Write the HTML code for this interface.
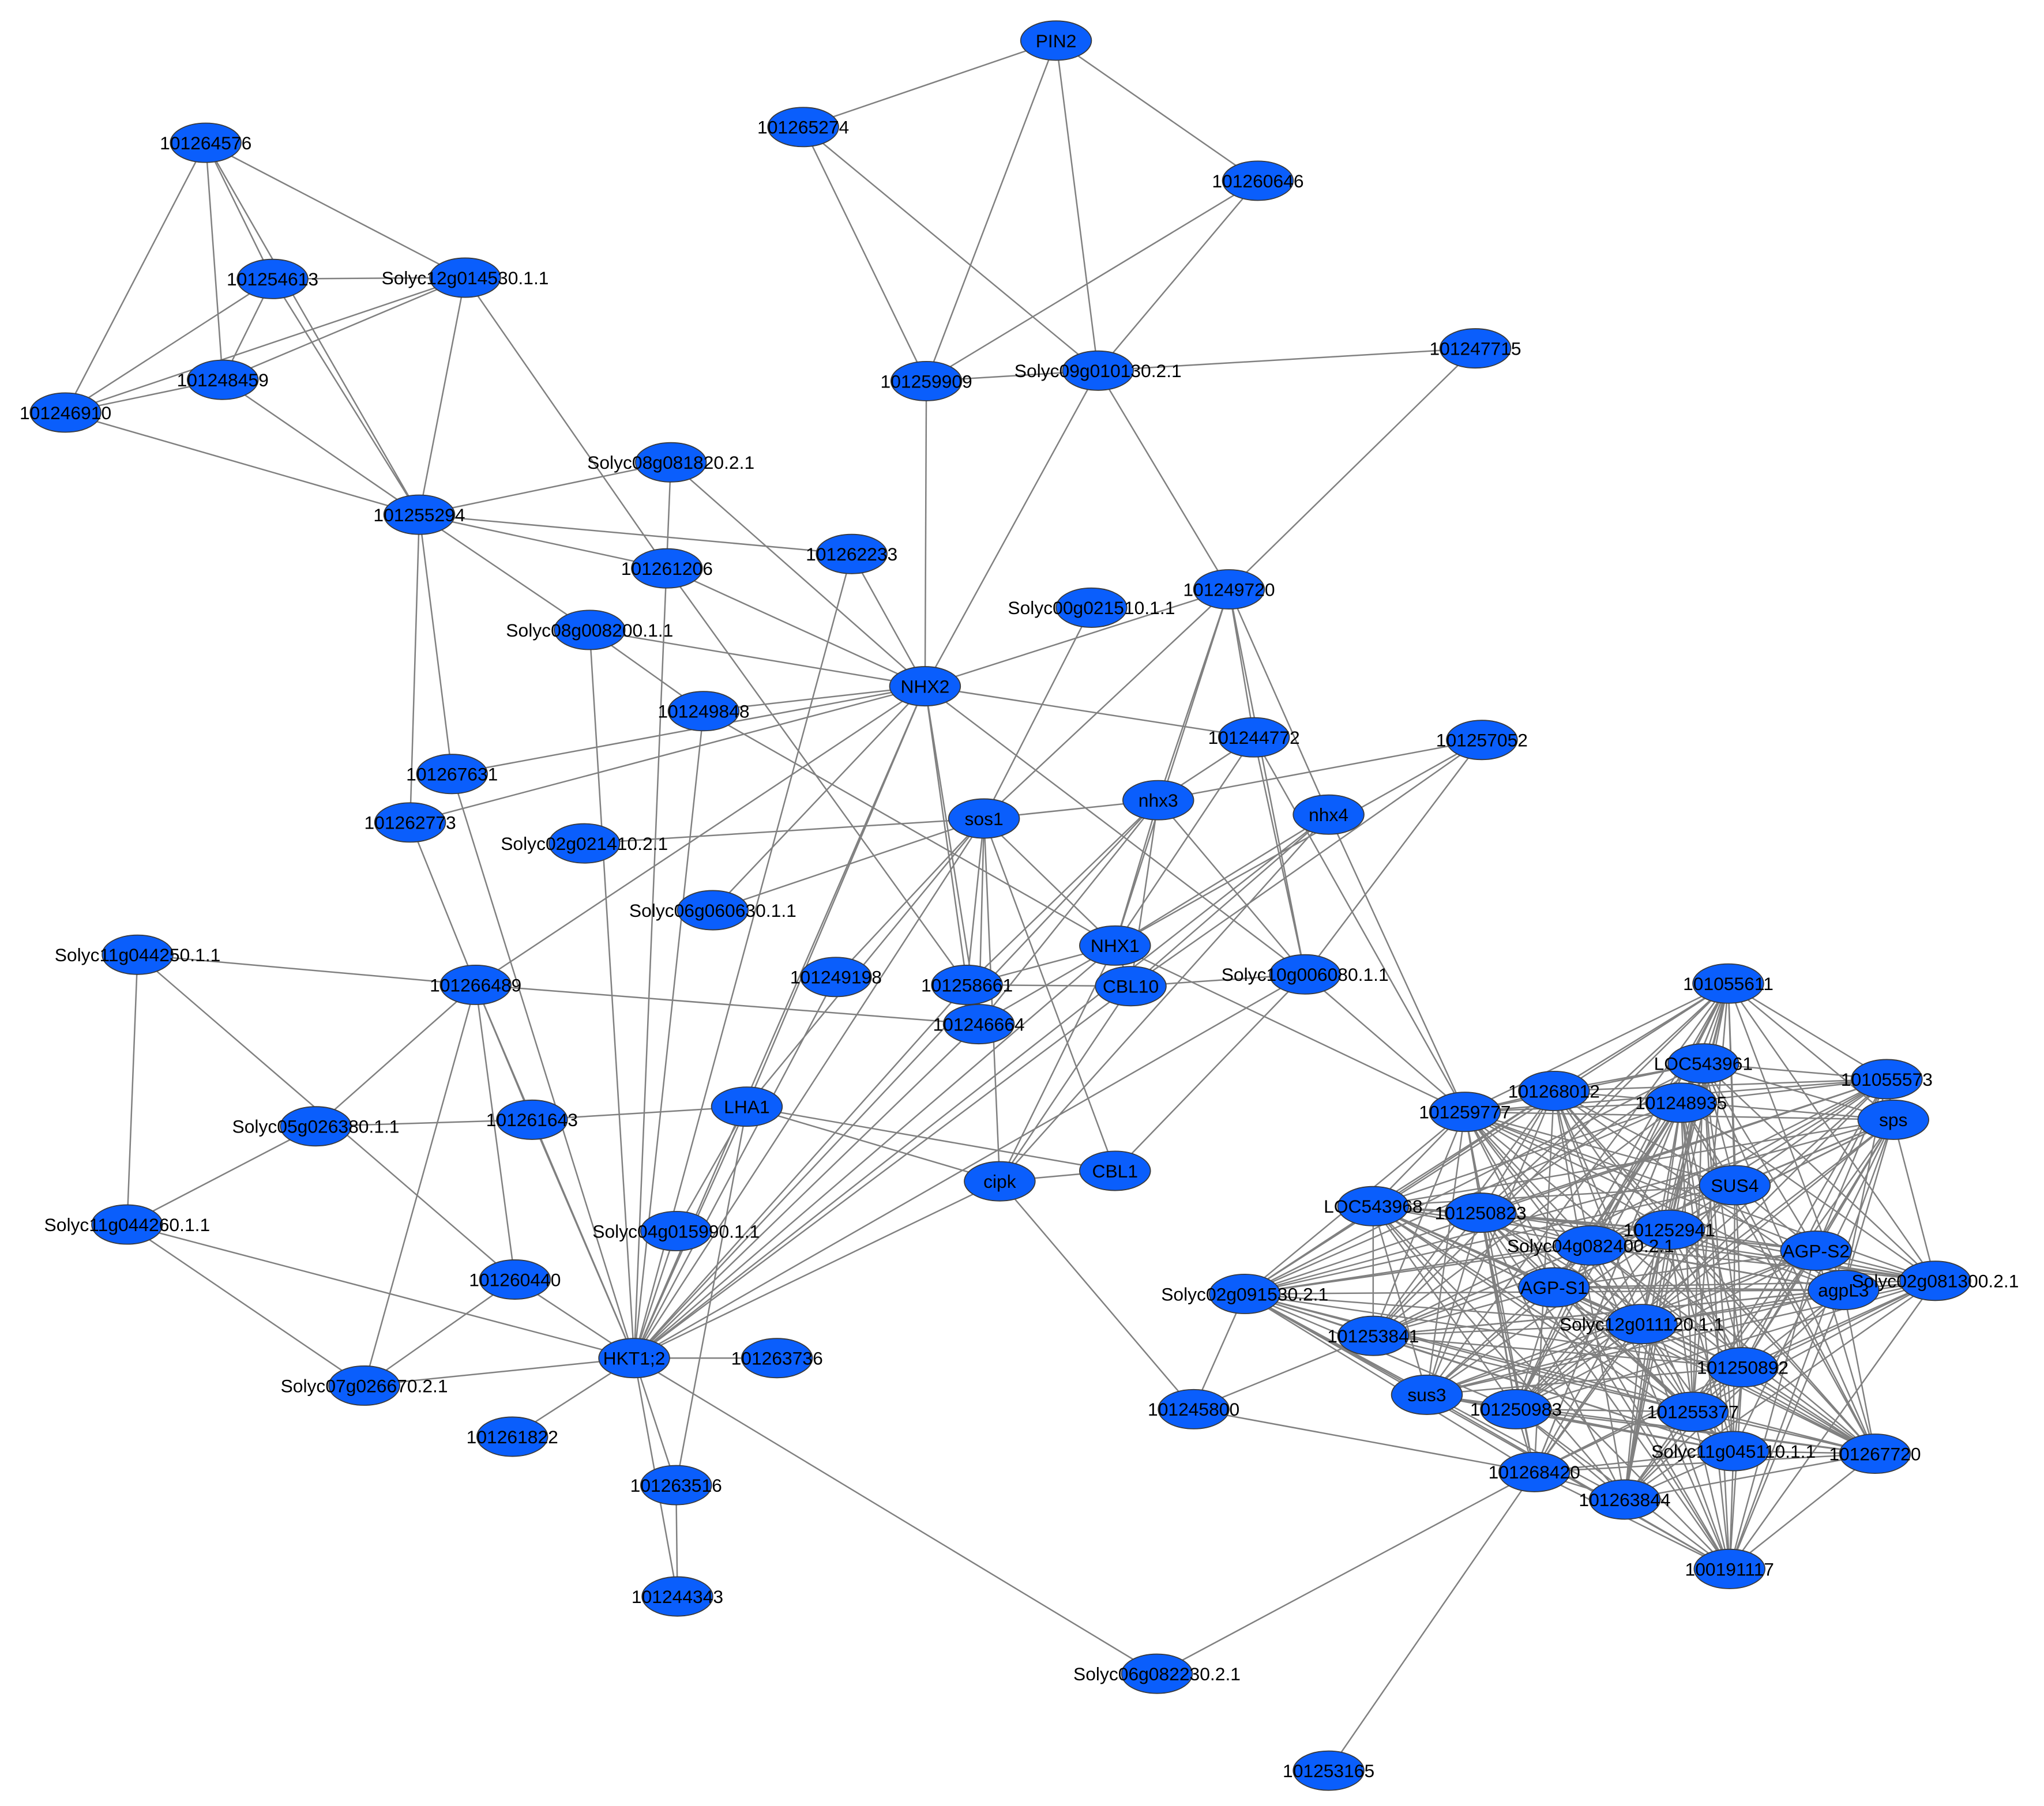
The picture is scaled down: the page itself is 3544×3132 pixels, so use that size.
<!DOCTYPE html>
<html><head><meta charset="utf-8"><style>
html,body{margin:0;padding:0;background:#fff;}
svg{display:block;}
text{font-family:"Liberation Sans",sans-serif;font-size:14px;fill:#000;}
</style></head><body>
<svg id="g" width="3544" height="3132" viewBox="0 0 1560 1379" preserveAspectRatio="none" xmlns="http://www.w3.org/2000/svg">
<g id="edges" stroke="#808080" stroke-width="1.1" fill="none"></g>
<g id="nodes"></g>
</svg>
<script>
var N={
"PIN2":[806,31],"101265274":[613,97],"101260646":[960,138],"101264576":[157,109],
"101254613":[208,213],"Solyc12g014530.1.1":[355,212],"101248459":[170,290],"101246910":[50,315],
"101259909":[707,291],"Solyc09g010130.2.1":[838,283],"101247715":[1126,266],"Solyc08g081820.2.1":[512,353],
"101255294":[320,393],"101261206":[509,434],"101262233":[650,423],"101249720":[938,450],
"Solyc00g021510.1.1":[833,464],"Solyc08g008200.1.1":[450,481],"NHX2":[706,524],"101249848":[537,543],
"101244772":[957,563],"101257052":[1131,565],"101267631":[345,591],"sos1":[751,625],"nhx3":[884,611],
"nhx4":[1014,622],"101262773":[313,628],"Solyc02g021410.2.1":[446,644],"Solyc06g060630.1.1":[544,695],
"NHX1":[851,722],"101249198":[638,746],"101258661":[738,752],"CBL10":[863,753],"Solyc10g006080.1.1":[996,744],
"Solyc11g044250.1.1":[105,729],"101266489":[363,752],"101246664":[747,782],"101055611":[1319,751],
"LOC543961":[1300,812],"101055573":[1440,824],"101268012":[1186,833],"101248935":[1283,842],"sps":[1445,855],
"101259777":[1118,849],"LHA1":[570,845],"101261643":[406,855],"Solyc05g026380.1.1":[241,860],"CBL1":[851,894],
"cipk":[763,902],"SUS4":[1324,905],"LOC543968":[1048,921],"101250823":[1130,926],"101252941":[1274,939],
"Solyc04g082400.2.1":[1214,951],"AGP-S2":[1386,955],"Solyc11g044260.1.1":[97,935],"Solyc04g015990.1.1":[516,940],
"AGP-S1":[1186,983],"agpL3":[1407,985],"Solyc02g081300.2.1":[1477,978],"Solyc02g091530.2.1":[950,988],
"101260440":[393,977],"Solyc12g011120.1.1":[1253,1011],"101253841":[1048,1020],"101250892":[1330,1044],
"HKT1;2":[484,1037],"101263736":[593,1037],"Solyc07g026670.2.1":[278,1058],"sus3":[1089,1065],
"101250983":[1157,1076],"101255377":[1292,1078],"101245800":[911,1076],"101261822":[391,1097],
"Solyc11g045110.1.1":[1323,1108],"101267720":[1431,1110],"101268420":[1171,1124],"101263844":[1240,1145],
"101263516":[516,1134],"100191117":[1320,1198],"101244343":[517,1219],"Solyc06g082230.2.1":[883,1278],
"101253165":[1014,1352]};
var E=[
["PIN2","101265274"],["PIN2","101260646"],["PIN2","101259909"],["PIN2","Solyc09g010130.2.1"],
["101265274","101259909"],["101265274","Solyc09g010130.2.1"],["101260646","101259909"],["101260646","Solyc09g010130.2.1"],
["101259909","Solyc09g010130.2.1"],["Solyc09g010130.2.1","101247715"],["Solyc09g010130.2.1","NHX2"],["Solyc09g010130.2.1","101249720"],
["101247715","101249720"],["101259909","NHX2"],
["101264576","101254613"],["101264576","101248459"],["101264576","101246910"],["101264576","Solyc12g014530.1.1"],["101264576","101255294"],
["101254613","Solyc12g014530.1.1"],["101254613","101248459"],["101254613","101246910"],["101254613","101255294"],
["Solyc12g014530.1.1","101248459"],["Solyc12g014530.1.1","101246910"],["Solyc12g014530.1.1","101255294"],["Solyc12g014530.1.1","101261206"],
["101248459","101246910"],["101248459","101255294"],["101246910","101255294"],
["101255294","Solyc08g081820.2.1"],["101255294","101262233"],["101255294","101261206"],["101255294","Solyc08g008200.1.1"],
["101255294","101267631"],["101255294","101262773"],
["Solyc08g081820.2.1","NHX2"],["Solyc08g081820.2.1","HKT1;2"],["101261206","NHX2"],["101261206","101258661"],
["101262233","NHX2"],["101262233","HKT1;2"],["Solyc08g008200.1.1","NHX2"],["Solyc08g008200.1.1","HKT1;2"],
["Solyc08g008200.1.1","101249848"],["101249848","NHX2"],["101249848","HKT1;2"],["101249848","NHX1"],
["NHX2","101267631"],["NHX2","101262773"],["NHX2","101266489"],["NHX2","101244772"],["NHX2","101249720"],["NHX2","HKT1;2"],
["NHX2","101258661"],["NHX2","101246664"],["NHX2","Solyc10g006080.1.1"],["NHX2","LHA1"],["NHX2","Solyc06g060630.1.1"],
["101249720","101244772"],["101249720","nhx3"],["101249720","nhx4"],["101249720","sos1"],["101249720","NHX1"],["101249720","Solyc10g006080.1.1"],
["Solyc00g021510.1.1","sos1"],["101244772","nhx3"],["101244772","Solyc10g006080.1.1"],["101244772","101259777"],["101244772","NHX1"],
["101257052","nhx3"],["101257052","NHX1"],["101257052","CBL10"],["101257052","Solyc10g006080.1.1"],
["sos1","nhx3"],["sos1","Solyc02g021410.2.1"],["sos1","Solyc06g060630.1.1"],["sos1","101249198"],["sos1","101258661"],
["sos1","101246664"],["sos1","cipk"],["sos1","CBL1"],["sos1","NHX1"],["sos1","LHA1"],["sos1","HKT1;2"],
["nhx3","NHX1"],["nhx3","CBL10"],["nhx3","Solyc10g006080.1.1"],["nhx3","HKT1;2"],["nhx3","101246664"],["nhx3","101258661"],
["nhx4","NHX1"],["nhx4","CBL10"],["nhx4","101259777"],["nhx4","cipk"],["nhx4","HKT1;2"],
["NHX1","CBL10"],["NHX1","101258661"],["NHX1","101246664"],["NHX1","cipk"],["NHX1","HKT1;2"],["NHX1","101259777"],
["CBL10","cipk"],["CBL10","101258661"],["CBL10","Solyc10g006080.1.1"],["CBL10","HKT1;2"],
["Solyc10g006080.1.1","101259777"],["Solyc10g006080.1.1","HKT1;2"],["Solyc10g006080.1.1","CBL1"],
["101266489","Solyc11g044250.1.1"],["101266489","101246664"],["101266489","101261643"],["101266489","HKT1;2"],
["101266489","Solyc05g026380.1.1"],["101266489","101260440"],["101266489","Solyc07g026670.2.1"],["101262773","101266489"],
["Solyc11g044250.1.1","Solyc11g044260.1.1"],["Solyc11g044250.1.1","101260440"],
["101261643","LHA1"],["101261643","Solyc05g026380.1.1"],["101261643","HKT1;2"],
["Solyc11g044260.1.1","HKT1;2"],["Solyc11g044260.1.1","Solyc07g026670.2.1"],["Solyc11g044260.1.1","Solyc05g026380.1.1"],
["LHA1","cipk"],["LHA1","CBL1"],["LHA1","HKT1;2"],["LHA1","101263516"],["LHA1","Solyc04g015990.1.1"],
["cipk","CBL1"],["cipk","HKT1;2"],["cipk","101245800"],
["HKT1;2","101263736"],["HKT1;2","Solyc07g026670.2.1"],["HKT1;2","101261822"],["HKT1;2","101263516"],["HKT1;2","101244343"],
["HKT1;2","Solyc06g082230.2.1"],["HKT1;2","101260440"],["HKT1;2","101249198"],["HKT1;2","101258661"],["HKT1;2","101246664"],
["HKT1;2","Solyc04g015990.1.1"],["HKT1;2","101267631"],["101263516","101244343"],["101260440","Solyc07g026670.2.1"],
["Solyc06g082230.2.1","101268420"],["101268420","101253165"],["101245800","101268420"],["101245800","Solyc02g091530.2.1"],["101245800","101253841"]
];
var C=["101055611","LOC543961","101055573","101268012","101248935","sps","101259777","SUS4","LOC543968","101250823","101252941",
"Solyc04g082400.2.1","AGP-S2","AGP-S1","agpL3","Solyc02g081300.2.1","Solyc02g091530.2.1","Solyc12g011120.1.1","101253841",
"101250892","sus3","101250983","101255377","Solyc11g045110.1.1","101267720","101268420","101263844","100191117"];
var s=7;function r(){s=(s*9301+49297)%233280;return s/233280;}
for(var i=0;i<C.length;i++)for(var j=i+1;j<C.length;j++){if(r()<0.68)E.push([C[i],C[j]]);}
var ns="http://www.w3.org/2000/svg",eg=document.getElementById("edges"),ng=document.getElementById("nodes");
E.forEach(function(e){var a=N[e[0]],b=N[e[1]];if(!a||!b)return;var l=document.createElementNS(ns,"line");
l.setAttribute("x1",a[0]);l.setAttribute("y1",a[1]);l.setAttribute("x2",b[0]);l.setAttribute("y2",b[1]);eg.appendChild(l);});
for(var k in N){var p=N[k];var el=document.createElementNS(ns,"ellipse");
el.setAttribute("cx",p[0]);el.setAttribute("cy",p[1]);el.setAttribute("rx",27);el.setAttribute("ry",15);
el.setAttribute("fill","#0a5efc");el.setAttribute("stroke","#3a3a3a");el.setAttribute("stroke-width","0.8");ng.appendChild(el);}
for(var k in N){var p=N[k];var t=document.createElementNS(ns,"text");
t.setAttribute("x",p[0]);t.setAttribute("y",p[1]+5);t.setAttribute("text-anchor","middle");t.textContent=k;ng.appendChild(t);}
</script>
</body></html>
